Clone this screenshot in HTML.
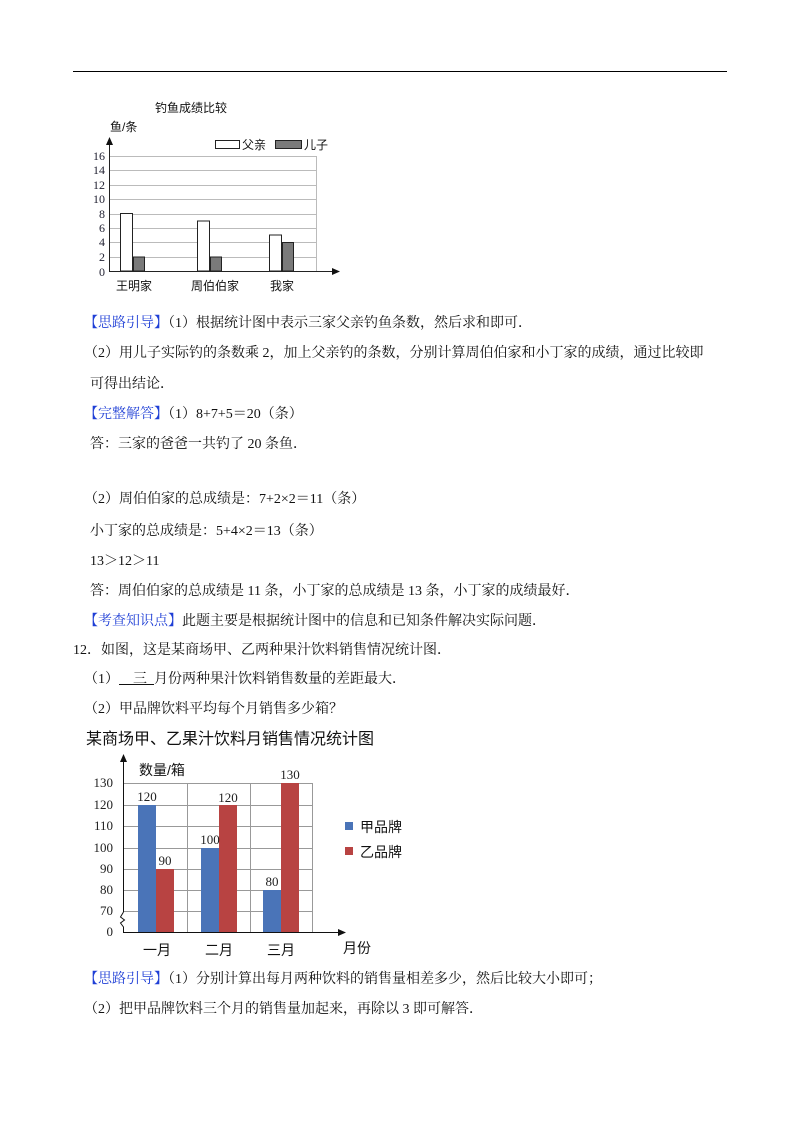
<!DOCTYPE html>
<html><head><meta charset="utf-8"><style>
body{margin:0;background:#fff;}
#p{position:relative;width:800px;height:1132px;overflow:hidden;font-family:"Liberation Serif","Noto Serif CJK SC",serif;font-size:14px;color:#111;}
.t{position:absolute;white-space:nowrap;line-height:16px;}
.b{color:#1f3fd6;}
svg text{font-family:"Liberation Sans","Noto Sans CJK SC",sans-serif;}
svg .serif text{font-family:"Liberation Serif",serif;}
</style></head><body><div id="p">
<div style="position:absolute;left:73px;top:71px;width:654px;height:1px;background:#000"></div>

<svg style="position:absolute;left:0;top:0" width="800" height="1132">
<g font-size="11" fill="#111">
<text x="155" y="112" font-size="12">钓鱼成绩比较</text>
<text x="110" y="131" font-size="12">鱼/条</text>
</g>
<g stroke="#bbb" stroke-width="1">
<line x1="109" y1="156.5" x2="316" y2="156.5"/><line x1="109" y1="170.5" x2="316" y2="170.5"/>
<line x1="109" y1="185.5" x2="316" y2="185.5"/><line x1="109" y1="199.5" x2="316" y2="199.5"/>
<line x1="109" y1="214.5" x2="316" y2="214.5"/><line x1="109" y1="228.5" x2="316" y2="228.5"/>
<line x1="109" y1="242.5" x2="316" y2="242.5"/><line x1="109" y1="257.5" x2="316" y2="257.5"/>
<line x1="316.5" y1="156" x2="316.5" y2="271"/>
</g>
<g class="serif" font-size="12" fill="#223" text-anchor="end">
<text x="105" y="160">16</text><text x="105" y="174">14</text><text x="105" y="189">12</text><text x="105" y="203">10</text>
<text x="105" y="218">8</text><text x="105" y="232">6</text><text x="105" y="246">4</text><text x="105" y="261">2</text><text x="105" y="276">0</text>
</g>
<g stroke="#222" stroke-width="1">
<rect x="120.5" y="213.5" width="12" height="57.5" fill="#fff"/>
<rect x="133.5" y="257" width="11" height="14" fill="#7a7a7a"/>
<rect x="197.5" y="221" width="12" height="50" fill="#fff"/>
<rect x="210.5" y="257" width="11" height="14" fill="#7a7a7a"/>
<rect x="269.5" y="235" width="12" height="36" fill="#fff"/>
<rect x="282.5" y="242.5" width="11" height="28.5" fill="#7a7a7a"/>
<rect x="215.5" y="140.5" width="24" height="8" fill="#fff"/>
<rect x="275.5" y="140.5" width="26" height="8" fill="#7a7a7a"/>
<line x1="109.5" y1="142" x2="109.5" y2="271"/><line x1="109" y1="271.5" x2="334" y2="271.5"/>
</g>
<polygon points="109.5,137 106,145 113,145" fill="#111"/>
<polygon points="340,271.5 332,268 332,275" fill="#111"/>
<g font-size="12" fill="#111">
<text x="242" y="149">父亲</text><text x="304" y="149">儿子</text>
<text x="116" y="290">王明家</text><text x="191" y="290">周伯伯家</text><text x="270" y="290">我家</text>
</g>

<text x="86" y="744" font-size="16" fill="#111">某商场甲、乙果汁饮料月销售情况统计图</text>
<text x="139" y="775" font-size="14" fill="#111">数量/箱</text>
<g stroke="#999" stroke-width="1">
<line x1="123" y1="783.5" x2="312" y2="783.5"/><line x1="123" y1="805.5" x2="312" y2="805.5"/>
<line x1="123" y1="826.5" x2="312" y2="826.5"/><line x1="123" y1="848.5" x2="312" y2="848.5"/>
<line x1="123" y1="869.5" x2="312" y2="869.5"/><line x1="123" y1="890.5" x2="312" y2="890.5"/>
<line x1="123" y1="911.5" x2="312" y2="911.5"/>
<line x1="187.5" y1="783" x2="187.5" y2="932"/><line x1="250.5" y1="783" x2="250.5" y2="932"/>
<line x1="312.5" y1="783" x2="312.5" y2="932"/>
</g>
<g fill="#4a74b8">
<rect x="138" y="805" width="18" height="127"/><rect x="201" y="848" width="18" height="84"/><rect x="263" y="890" width="18" height="42"/>
<rect x="345" y="822" width="8" height="8"/>
</g>
<g fill="#b84342">
<rect x="156" y="869" width="18" height="63"/><rect x="219" y="805" width="18" height="127"/><rect x="281" y="783" width="18" height="149"/>
<rect x="345" y="847" width="8" height="8"/>
</g>
<g class="serif" font-size="13" fill="#222" text-anchor="end">
<text x="113" y="787">130</text><text x="113" y="809">120</text><text x="113" y="830">110</text><text x="113" y="852">100</text>
<text x="113" y="873">90</text><text x="113" y="894">80</text><text x="113" y="915">70</text><text x="113" y="936">0</text>
</g>
<g class="serif" font-size="13" fill="#222" text-anchor="middle">
<text x="147" y="801">120</text><text x="165" y="865">90</text><text x="210" y="844">100</text><text x="228" y="802">120</text>
<text x="272" y="886">80</text><text x="290" y="779">130</text>
</g>
<g stroke="#111" stroke-width="1" fill="none">
<line x1="123.5" y1="759" x2="123.5" y2="912"/>
<path d="M123.5 912 l-3 5 l4 3 l-4 3 l3 4 v5"/>
<line x1="123" y1="932.5" x2="340" y2="932.5"/>
</g>
<polygon points="123.5,754 120,762 127,762" fill="#111"/>
<polygon points="346,932.5 338,929 338,936" fill="#111"/>
<g font-size="14" fill="#111">
<text x="143" y="955">一月</text><text x="205" y="955">二月</text><text x="267" y="955">三月</text>
<text x="343" y="953">月份</text>
<text x="360" y="832">甲品牌</text><text x="360" y="857">乙品牌</text>
</g>
</svg>

<div class="t" style="left:84px;top:316px"><span class="b">【思路引导】</span>（1）根据统计图中表示三家父亲钓鱼条数，然后求和即可．</div>
<div class="t" style="left:84px;top:346px">（2）用儿子实际钓的条数乘 2，加上父亲钓的条数，分别计算周伯伯家和小丁家的成绩，通过比较即</div>
<div class="t" style="left:90px;top:377px">可得出结论．</div>
<div class="t" style="left:84px;top:407px"><span class="b">【完整解答】</span>（1）8+7+5＝20（条）</div>
<div class="t" style="left:90px;top:437px">答：三家的爸爸一共钓了 20 条鱼．</div>
<div class="t" style="left:84px;top:492px">（2）周伯伯家的总成绩是：7+2×2＝11（条）</div>
<div class="t" style="left:90px;top:524px">小丁家的总成绩是：5+4×2＝13（条）</div>
<div class="t" style="left:90px;top:554px">13＞12＞11</div>
<div class="t" style="left:90px;top:584px">答：周伯伯家的总成绩是 11 条，小丁家的总成绩是 13 条，小丁家的成绩最好．</div>
<div class="t" style="left:84px;top:614px"><span class="b">【考查知识点】</span>此题主要是根据统计图中的信息和已知条件解决实际问题．</div>
<div class="t" style="left:73px;top:643px">12．如图，这是某商场甲、乙两种果汁饮料销售情况统计图．</div>
<div class="t" style="left:84px;top:672px">（1）<span style="text-decoration:underline">&nbsp;&nbsp;&nbsp;&nbsp;三&nbsp;&nbsp;</span>月份两种果汁饮料销售数量的差距最大．</div>
<div class="t" style="left:84px;top:702px">（2）甲品牌饮料平均每个月销售多少箱？</div>
<div class="t" style="left:84px;top:972px"><span class="b">【思路引导】</span>（1）分别计算出每月两种饮料的销售量相差多少，然后比较大小即可；</div>
<div class="t" style="left:84px;top:1002px">（2）把甲品牌饮料三个月的销售量加起来，再除以 3 即可解答．</div>
</div></body></html>
